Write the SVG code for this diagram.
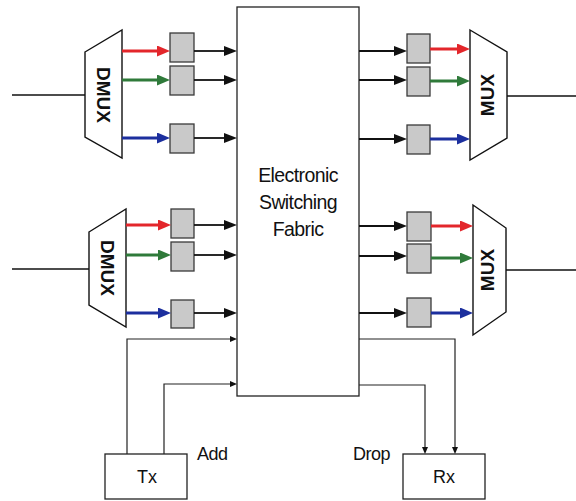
<svg xmlns="http://www.w3.org/2000/svg" width="576" height="501" viewBox="0 0 576 501">
<style>
.ln{stroke:#111;stroke-width:1.5;fill:none}
.thin{stroke:#222;stroke-width:1.2;fill:none}
.box{fill:#fff;stroke:#222;stroke-width:1.3}
.gb{fill:#c9c9c9;stroke:#3a3a3a;stroke-width:1.3}
.trap{fill:#fff;stroke:#111;stroke-width:1.4}
.r{stroke:#e3262b;stroke-width:3;fill:none}
.g{stroke:#2f7a3a;stroke-width:3;fill:none}
.b{stroke:#1c2f9e;stroke-width:3;fill:none}
.k{stroke:#111;stroke-width:1.8;fill:none}
.lbl{font-family:"Liberation Sans",Arial,sans-serif;font-size:18px;fill:#111}
.bold{font-family:"Liberation Sans",Arial,sans-serif;font-size:19px;font-weight:bold;fill:#111}
.fab{font-family:"Liberation Sans",Arial,sans-serif;font-size:19.5px;fill:#111;letter-spacing:-0.6px}
</style>
<defs>
<marker id="ar" markerUnits="userSpaceOnUse" markerWidth="13" markerHeight="11" refX="0" refY="5.5" orient="auto"><path d="M0,0 L13,5.5 L0,11 z" fill="#e3262b"/></marker>
<marker id="ag" markerUnits="userSpaceOnUse" markerWidth="13" markerHeight="11" refX="0" refY="5.5" orient="auto"><path d="M0,0 L13,5.5 L0,11 z" fill="#2f7a3a"/></marker>
<marker id="ab" markerUnits="userSpaceOnUse" markerWidth="13" markerHeight="11" refX="0" refY="5.5" orient="auto"><path d="M0,0 L13,5.5 L0,11 z" fill="#1c2f9e"/></marker>
<marker id="ak" markerUnits="userSpaceOnUse" markerWidth="13" markerHeight="11" refX="0" refY="5.5" orient="auto"><path d="M0,0.5 L13,5.5 L0,10.5 z" fill="#111"/></marker>
<marker id="as" markerUnits="userSpaceOnUse" markerWidth="7" markerHeight="6" refX="0" refY="3" orient="auto"><path d="M0,0 L7,3 L0,6 z" fill="#111"/></marker>
</defs>

<g id="fabric">
<rect class="box" x="237" y="7" width="122" height="389"/>
<text class="fab" x="298" y="182" text-anchor="middle">Electronic</text>
<text class="fab" x="298" y="209" text-anchor="middle">Switching</text>
<text class="fab" x="298" y="236" text-anchor="middle">Fabric</text>
</g>

<g id="dmux1">
<polygon class="trap" points="85,52 122,30 122,158 85,137"/>
<text class="bold" x="104" y="101.8" text-anchor="middle" transform="rotate(90 104 95)">DMUX</text>
</g>
<g id="dmux2">
<polygon class="trap" points="89,232 126,209 126,327 89,305"/>
<text class="bold" x="108" y="274.8" text-anchor="middle" transform="rotate(90 108 268)">DMUX</text>
</g>
<g id="mux1">
<polygon class="trap" points="470,30 507,52 507,138 470,160"/>
<text class="bold" x="487" y="101.8" text-anchor="middle" transform="rotate(-90 487 95)">MUX</text>
</g>
<g id="mux2">
<polygon class="trap" points="473,205 506,228 506,312 473,335"/>
<text class="bold" x="487" y="276.8" text-anchor="middle" transform="rotate(-90 487 270)">MUX</text>
</g>

<g id="boxes-in">
<rect class="gb" x="170" y="33" width="24" height="29"/>
<rect class="gb" x="170" y="66" width="24" height="29"/>
<rect class="gb" x="170" y="124" width="24" height="29"/>
<rect class="gb" x="171" y="209" width="23" height="29"/>
<rect class="gb" x="171" y="242" width="23" height="29"/>
<rect class="gb" x="171" y="300" width="23" height="28"/>
</g>
<g id="boxes-out">
<rect class="gb" x="407" y="34" width="23" height="29"/>
<rect class="gb" x="407" y="67" width="23" height="29"/>
<rect class="gb" x="407" y="125" width="23" height="29"/>
<rect class="gb" x="407" y="212" width="24" height="29"/>
<rect class="gb" x="407" y="244" width="24" height="29"/>
<rect class="gb" x="407" y="298" width="24" height="29"/>
</g>

<g id="tx">
<rect class="box" x="105" y="454" width="82" height="45"/>
<text class="lbl" x="147" y="483" text-anchor="middle">Tx</text>
</g>
<g id="rx">
<rect class="box" x="403" y="454" width="82" height="45"/>
<text class="lbl" x="444" y="483" text-anchor="middle">Rx</text>
</g>
<text class="lbl" x="197" y="460" letter-spacing="-0.5">Add</text>
<text class="lbl" x="353" y="460" letter-spacing="-0.5">Drop</text>

<g id="connectors">
<line class="ln" x1="12" y1="95" x2="85" y2="95"/>
<line class="ln" x1="12" y1="269" x2="89" y2="269"/>
<line class="ln" x1="507" y1="96" x2="576" y2="96"/>
<line class="ln" x1="506" y1="270" x2="576" y2="270"/>

<line class="r" x1="122" y1="51" x2="157" y2="51" marker-end="url(#ar)"/>
<line class="g" x1="122" y1="80" x2="157" y2="80" marker-end="url(#ag)"/>
<line class="b" x1="122" y1="138" x2="157" y2="138" marker-end="url(#ab)"/>
<line class="r" x1="126" y1="225" x2="158" y2="225" marker-end="url(#ar)"/>
<line class="g" x1="126" y1="255" x2="158" y2="255" marker-end="url(#ag)"/>
<line class="b" x1="126" y1="313" x2="158" y2="313" marker-end="url(#ab)"/>

<line class="k" x1="194" y1="51" x2="224" y2="51" marker-end="url(#ak)"/>
<line class="k" x1="194" y1="80" x2="224" y2="80" marker-end="url(#ak)"/>
<line class="k" x1="194" y1="138" x2="224" y2="138" marker-end="url(#ak)"/>
<line class="k" x1="194" y1="225" x2="224" y2="225" marker-end="url(#ak)"/>
<line class="k" x1="194" y1="255" x2="224" y2="255" marker-end="url(#ak)"/>
<line class="k" x1="194" y1="313" x2="224" y2="313" marker-end="url(#ak)"/>

<line class="k" x1="359" y1="51" x2="394" y2="51" marker-end="url(#ak)"/>
<line class="k" x1="359" y1="80" x2="394" y2="80" marker-end="url(#ak)"/>
<line class="k" x1="359" y1="139" x2="394" y2="139" marker-end="url(#ak)"/>
<line class="k" x1="359" y1="226" x2="394" y2="226" marker-end="url(#ak)"/>
<line class="k" x1="359" y1="256" x2="394" y2="256" marker-end="url(#ak)"/>
<line class="k" x1="359" y1="313" x2="394" y2="313" marker-end="url(#ak)"/>

<line class="r" x1="430" y1="49" x2="457" y2="49" marker-end="url(#ar)"/>
<line class="g" x1="430" y1="81" x2="457" y2="81" marker-end="url(#ag)"/>
<line class="b" x1="430" y1="139" x2="457" y2="139" marker-end="url(#ab)"/>
<line class="r" x1="431" y1="226" x2="460" y2="226" marker-end="url(#ar)"/>
<line class="g" x1="431" y1="258" x2="460" y2="258" marker-end="url(#ag)"/>
<line class="b" x1="431" y1="313" x2="460" y2="313" marker-end="url(#ab)"/>

<polyline class="thin" points="127,454 127,339 230,339" marker-end="url(#as)"/>
<polyline class="thin" points="164,454 164,384 230,384" marker-end="url(#as)"/>
<polyline class="thin" points="359,339 455,339 455,447" marker-end="url(#as)"/>
<polyline class="thin" points="359,385 425,385 425,447" marker-end="url(#as)"/>
</g>
</svg>
